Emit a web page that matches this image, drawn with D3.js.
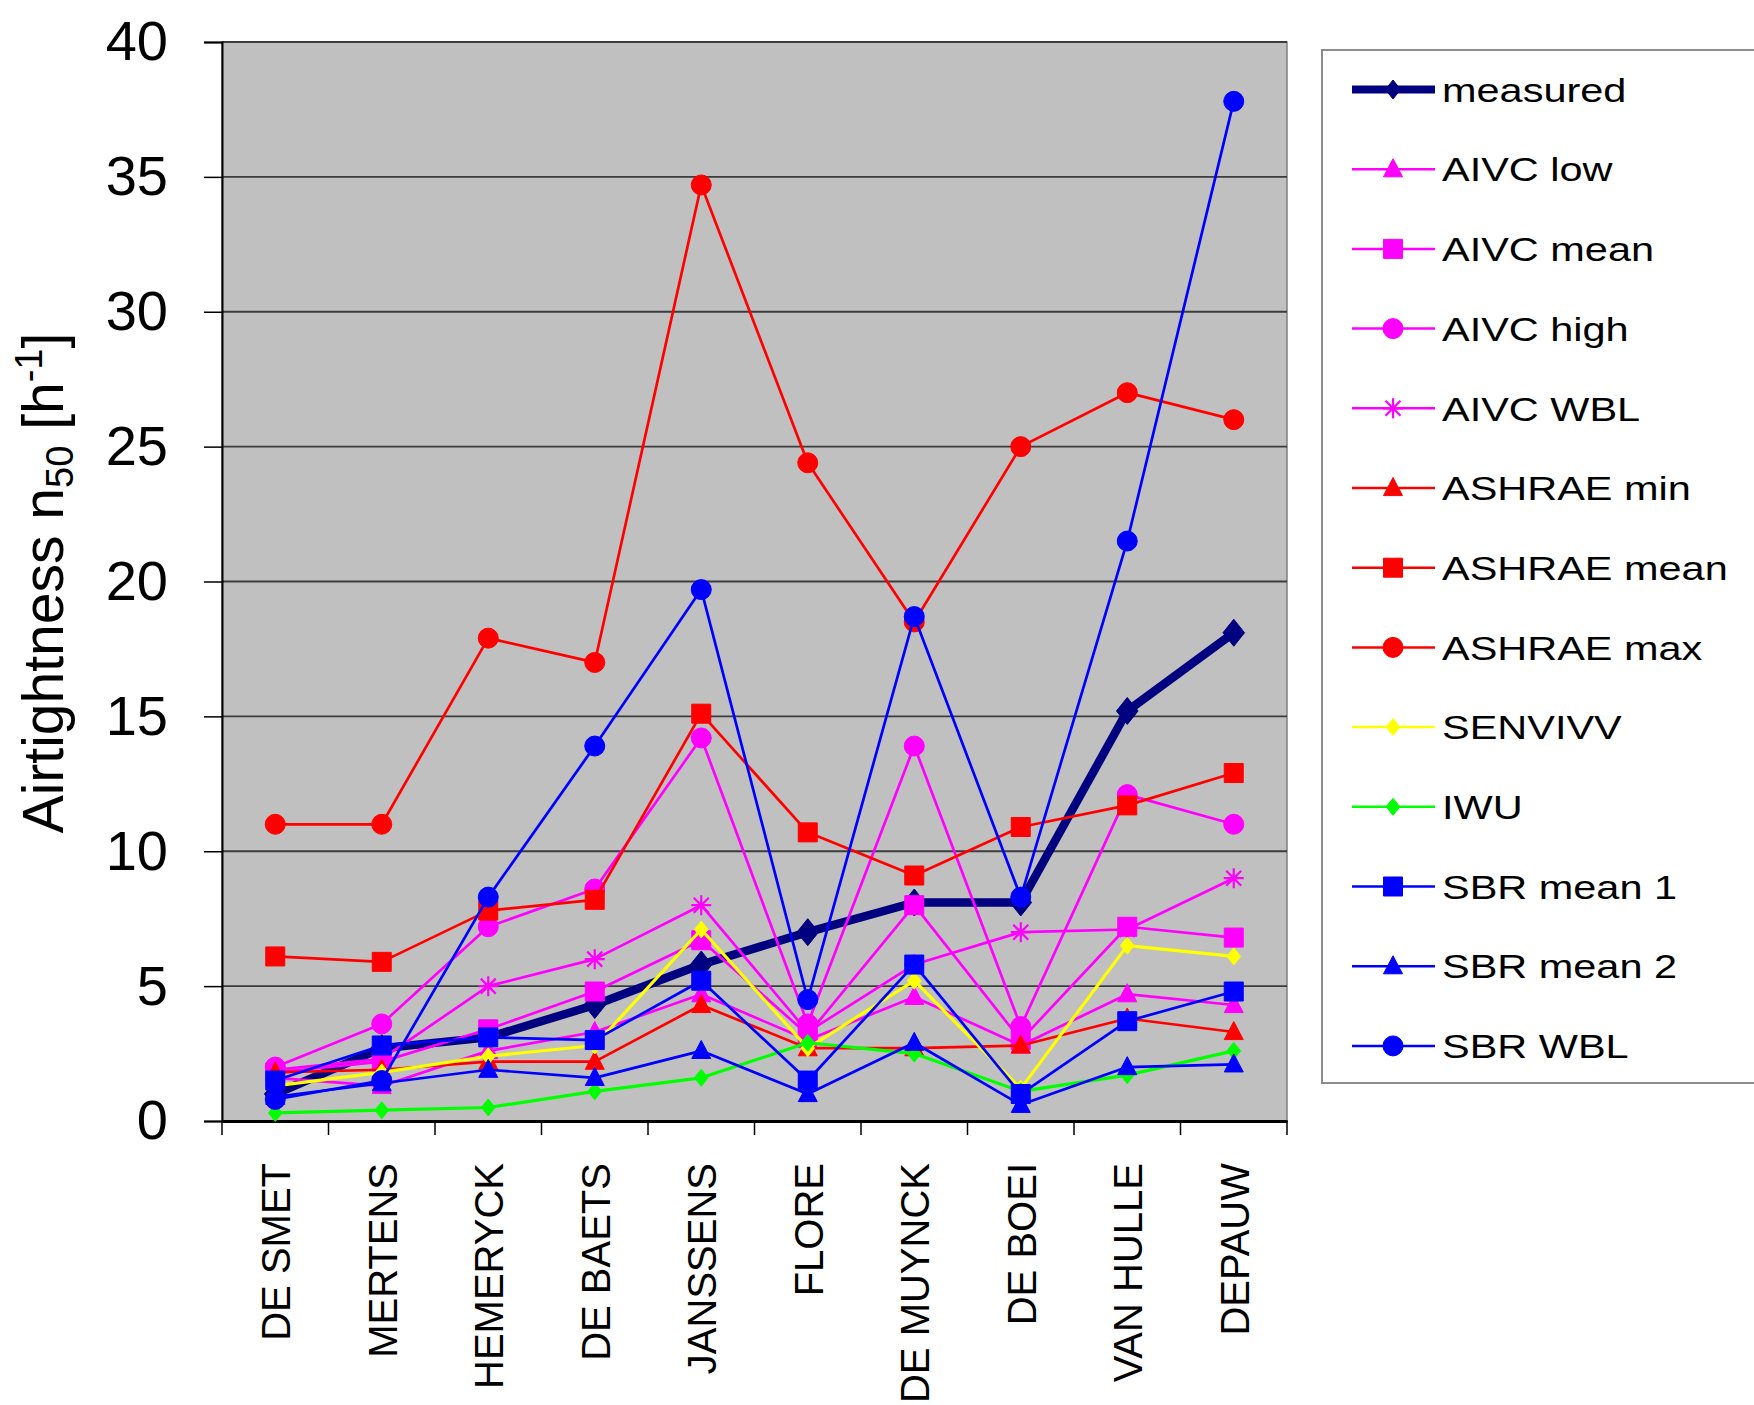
<!DOCTYPE html>
<html>
<head>
<meta charset="utf-8">
<script src="https://cdn.jsdelivr.net/npm/d3@7/dist/d3.min.js"></script>
<style>
  html, body { margin: 0; padding: 0; background: #fff; }
  svg { display: block; }
  text { font-family: "Liberation Sans", Arial, sans-serif; fill: #000; }
</style>
</head>
<body>
<svg id="chart" width="1754" height="1405"></svg>
<script>
const categories = ["DE SMET","MERTENS","HEMERYCK","DE BAETS","JANSSENS","FLORE","DE MUYNCK","DE BOEI","VAN HULLE","DEPAUW"];
const yTicks = [0,5,10,15,20,25,30,35,40];

const measured    = [1.0, 2.7, 3.1, 4.3, 5.8, 7.0, 8.1, 8.1, 15.2, 18.1];
const aivcLow     = [1.6, 1.3, 2.6, 3.3, 4.7, 3.0, 4.6, 2.8, 4.7, 4.3];
const aivcMean    = [1.8, 2.2, 3.4, 4.8, 6.7, 3.2, 8.0, 3.0, 7.2, 6.8];
const aivcHigh    = [2.0, 3.6, 7.2, 8.6, 14.2, 3.6, 13.9, 3.5, 12.1, 11.0];
const aivcWBL     = [1.9, 2.3, 5.0, 6.0, 8.0, 3.3, 5.8, 7.0, 7.1, 9.0];
const ashraeMin   = [1.8, 1.9, 2.2, 2.2, 4.3, 2.7, 2.7, 2.8, 3.8, 3.3];
const ashraeMean  = [6.1, 5.9, 7.8, 8.2, 15.1, 10.7, 9.1, 10.9, 11.7, 12.9];
const ashraeMax   = [11.0, 11.0, 17.9, 17.0, 34.7, 24.4, 18.5, 25.0, 27.0, 26.0];
const senvivv     = [1.3, 1.8, 2.4, 2.8, 7.1, 2.7, 5.2, 1.2, 6.5, 6.1];
const iwu         = [0.3, 0.4, 0.5, 1.1, 1.6, 2.9, 2.5, 1.1, 1.7, 2.6];
const sbrMean1    = [1.5, 2.8, 3.1, 3.0, 5.2, 1.5, 5.8, 1.0, 3.7, 4.8];
const sbrMean2    = [0.9, 1.4, 1.9, 1.6, 2.6, 1.0, 2.9, 0.6, 2.0, 2.1];
const sbrWBL      = [0.8, 1.5, 8.3, 13.9, 19.7, 4.5, 18.7, 8.3, 21.5, 37.8];

const seriesNames = ["measured","AIVC low","AIVC mean","AIVC high","AIVC WBL","ASHRAE min","ASHRAE mean","ASHRAE max","SENVIVV","IWU","SBR mean 1","SBR mean 2","SBR WBL"];
const seriesValues = [measured, aivcLow, aivcMean, aivcHigh, aivcWBL, ashraeMin, ashraeMean, ashraeMax, senvivv, iwu, sbrMean1, sbrMean2, sbrWBL];

// styles (not data)
const styles = [
  {color:"#000080", width:8.5, marker:"diamond", size:27},
  {color:"#FF00FF", width:2.7, marker:"triangle", size:19},
  {color:"#FF00FF", width:2.7, marker:"square", size:19},
  {color:"#FF00FF", width:2.7, marker:"circle", size:20},
  {color:"#FF00FF", width:2.7, marker:"star", size:20},
  {color:"#FF0000", width:2.7, marker:"triangle", size:19},
  {color:"#FF0000", width:2.7, marker:"square", size:19},
  {color:"#FF0000", width:2.7, marker:"circle", size:20},
  {color:"#FFFF00", width:3.2, marker:"diamond", size:17},
  {color:"#00FF00", width:3.2, marker:"diamond", size:17},
  {color:"#0000FF", width:2.7, marker:"square", size:19},
  {color:"#0000FF", width:2.7, marker:"triangle", size:19},
  {color:"#0000FF", width:2.7, marker:"circle", size:20}
];

const svg = d3.select("#chart");
const plot = {left:222, right:1287, top:42, bottom:1121};

const x = d3.scaleBand().domain(categories).range([plot.left, plot.right]);
const y = d3.scaleLinear().domain([0,40]).range([plot.bottom, plot.top]);

// plot background
svg.append("rect")
  .attr("x", plot.left).attr("y", plot.top)
  .attr("width", plot.right-plot.left).attr("height", plot.bottom-plot.top)
  .attr("fill", "#C0C0C0").attr("stroke", "#808080").attr("stroke-width", 1.5);

// gridlines
svg.append("g").selectAll("line").data(yTicks.filter(d=>d>0)).join("line")
  .attr("x1", plot.left).attr("x2", plot.right)
  .attr("y1", d=>y(d)).attr("y2", d=>y(d))
  .attr("stroke", "#3c3c3c").attr("stroke-width", 1.8);

// y axis
const yAxis = svg.append("g").attr("transform", `translate(${plot.left},0)`)
  .call(d3.axisLeft(y).tickValues(yTicks).tickSize(18).tickPadding(36).tickFormat(d3.format("d")));
yAxis.select(".domain").attr("stroke", "#000").attr("stroke-width", 2);
yAxis.selectAll(".tick line").attr("stroke", "#000").attr("stroke-width", 1.5);
yAxis.selectAll(".tick text").attr("font-size", 56).attr("font-family", "Liberation Sans, Arial, sans-serif").attr("fill", "#000");

// x axis
const xAxis = svg.append("g").attr("transform", `translate(0,${plot.bottom})`)
  .call(d3.axisBottom(x).tickSize(0).tickFormat(""));
xAxis.select(".domain").attr("stroke", "#000").attr("stroke-width", 3);
// tick marks at band boundaries
const bounds = categories.map(c => x(c)).concat([plot.right]);
svg.append("g").selectAll("line").data(bounds).join("line")
  .attr("x1", d=>d).attr("x2", d=>d)
  .attr("y1", plot.bottom).attr("y2", plot.bottom+14)
  .attr("stroke", "#000").attr("stroke-width", 1.5);
// labels
svg.append("g").selectAll("text").data(categories).join("text")
  .attr("transform", d => `translate(${x(d)+x.bandwidth()/2+15},${plot.bottom+42}) rotate(-90)`)
  .attr("text-anchor", "end")
  .attr("font-size", 40)
  .text(d=>d);

// y axis title
const title = svg.append("text")
  .attr("transform", `translate(63,583) rotate(-90)`)
  .attr("text-anchor", "middle")
  .attr("font-size", 57);
title.append("tspan").text("Airtightness n");
title.append("tspan").attr("font-size", 38).attr("dy", 10).text("50");
title.append("tspan").attr("dy", -10).text(" [h");
title.append("tspan").attr("font-size", 38).attr("dy", -21).text("-1");
title.append("tspan").attr("dy", 21).text("]");

// marker path generator
function markerPath(type, s) {
  const h = s/2;
  switch(type) {
    case "diamond": return `M0,${-h*1.0}L${h*0.8},0L0,${h*1.0}L${-h*0.8},0Z`;
    case "square": return `M${-h},${-h}H${h}V${h}H${-h}Z`;
    case "triangle": return `M0,${-h*1.1}L${h},${h*0.8}L${-h},${h*0.8}Z`;
    case "circle": return d3.symbol(d3.symbolCircle, Math.PI*h*h)();
    case "star": return `M${-h},0H${h}M0,${-h}V${h}M${-h*0.75},${-h*0.75}L${h*0.75},${h*0.75}M${-h*0.75},${h*0.75}L${h*0.75},${-h*0.75}`;
  }
}
function drawMarker(g, type, s, color, cx, cy) {
  const p = g.append("path").attr("d", markerPath(type, s)).attr("transform", `translate(${cx},${cy})`);
  if (type === "star") p.attr("fill", "none").attr("stroke", color).attr("stroke-width", 2.2);
  else p.attr("fill", color).attr("stroke", color).attr("stroke-width", 1);
}

const line = d3.line().x((d,i)=>x(categories[i])+x.bandwidth()/2).y(d=>y(d));

const plotG = svg.append("g");
seriesValues.forEach((vals, si) => {
  const st = styles[si];
  const g = plotG.append("g");
  g.append("path").datum(vals).attr("d", line)
    .attr("fill", "none").attr("stroke", st.color).attr("stroke-width", st.width)
    .attr("stroke-linejoin", "round");
  vals.forEach((v,i) => drawMarker(g, st.marker, st.size, st.color, x(categories[i])+x.bandwidth()/2, y(v)));
});

// legend
const leg = {x:1322, y:50, w:440, h:1033};
svg.append("rect").attr("x", leg.x).attr("y", leg.y).attr("width", leg.w).attr("height", leg.h)
  .attr("fill", "#fff").attr("stroke", "#8c8c8c").attr("stroke-width", 2);
const legG = svg.append("g");
seriesNames.forEach((name, i) => {
  const st = styles[i];
  const cy = 89.5 + i*79.7;
  const g = legG.append("g");
  g.append("line").attr("x1", 1352).attr("x2", 1435).attr("y1", cy).attr("y2", cy)
    .attr("stroke", st.color).attr("stroke-width", i===0 ? 8 : 2.5);
  drawMarker(g, st.marker, i===0 ? 19 : st.size, st.color, 1393, cy);
  g.append("text").attr("transform", `translate(1442,${cy}) scale(1.22,1)`).attr("dy", "0.36em")
    .attr("font-size", 34).text(name);
});
</script>
</body>
</html>
